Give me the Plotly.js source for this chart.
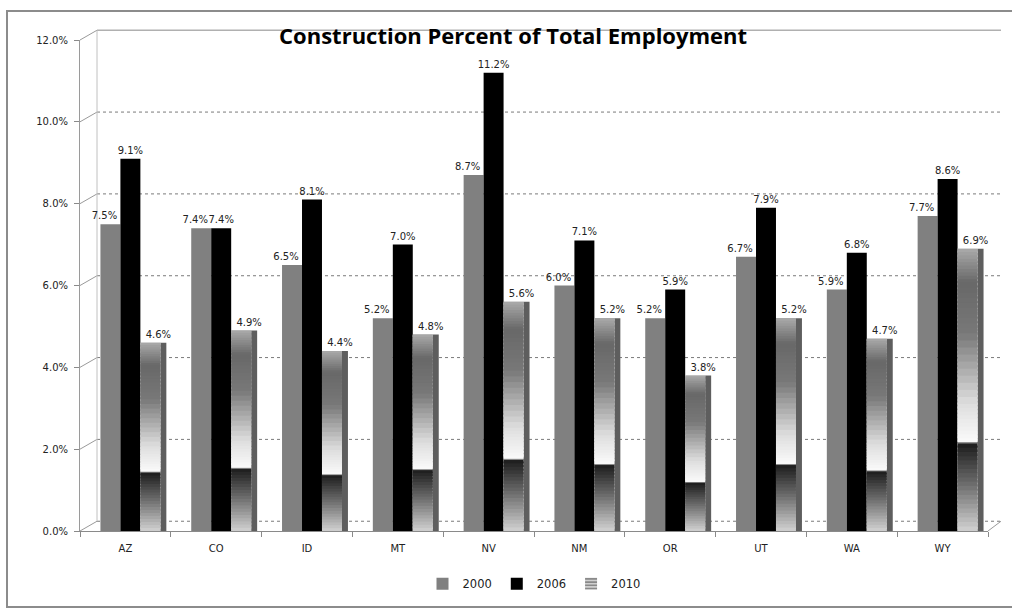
<!DOCTYPE html>
<html>
<head>
<meta charset="utf-8">
<script src="https://cdn.plot.ly/plotly-3.0.1.min.js"></script>
<style>
  html, body { margin: 0; padding: 0; background: #fff; }
  #wrap { position: relative; width: 1012px; height: 610px; }
  #chart { position: absolute; left: 0; top: 0; width: 1012px; height: 610px; }
  #frame { position: absolute; left: 6px; top: 10px; width: 1004px; height: 594px;
           border: 2px solid #8c8c8c; pointer-events: none; }
</style>
</head>
<body>
<div id="wrap">
  <div id="chart"></div>
  <div id="frame"></div>
</div>
<script>
// ---- data ----
const states = ["AZ", "CO", "ID", "MT", "NV", "NM", "OR", "UT", "WA", "WY"];
const share2000 = [0.075, 0.074, 0.065, 0.052, 0.087, 0.060, 0.052, 0.067, 0.059, 0.077];
const share2006 = [0.091, 0.074, 0.081, 0.070, 0.112, 0.071, 0.059, 0.079, 0.068, 0.086];
const share2010 = [0.046, 0.049, 0.044, 0.048, 0.056, 0.052, 0.038, 0.052, 0.047, 0.069];
const yTicks = [0, 0.02, 0.04, 0.06, 0.08, 0.10, 0.12];

// ---- style ----
const FONT = "DejaVu Sans, Verdana, sans-serif";
const BW = 0.22;                 // bar width (category units)
const OFF = [-0.275, -0.055, 0.165];
const LABEL_SHIFT = [-0.066, 0, 0.088];   // label nudges (category units)
const YMAX = 0.12;
const PW = 908, PH = 503;        // plot area px
const dxp = 17 / PW, dyp = 10 / PH;   // 3D back-wall offset in paper units
const wallRight = (1001 - 80) / PW;
const SEAM = 0.0004;             // small overlap so gradient bands leave no seams

// gradient stops for the 2010 bars (fraction of bar height -> grey level)
const stops = [[0, 210], [0.16, 112], [0.31, 28], [0.315, 250], [0.45, 222], [0.70, 120], [0.88, 104], [1, 170]];

function grey(v) { v = Math.round(v); return "rgb(" + v + "," + v + "," + v + ")"; }

const traces = [];
const labelFont = { family: FONT, size: 10, color: "#222" };

traces.push({
  type: "bar", name: "2000", x: states, y: share2000, width: BW, offset: OFF[0],
  marker: { color: "#808080", line: { width: 0 } }, hoverinfo: "skip"
});
traces.push({
  type: "bar", name: "2006", x: states, y: share2006, width: BW, offset: OFF[1],
  marker: { color: "#000000", line: { width: 0 } }, hoverinfo: "skip"
});
// side face of the 2010 bars (3D look)
traces.push({
  type: "bar", name: "side", x: states, y: share2010, width: 0.066, offset: OFF[2] + BW,
  marker: { color: "#5e5e5e", line: { width: 0 } },
  showlegend: false, hoverinfo: "skip"
});
traces.push({
  type: "bar", name: "2010", x: states, y: share2010, width: BW, offset: OFF[2],
  marker: { color: "#bdbdbd", line: { width: 0 },
            pattern: { shape: "-", fgcolor: "#777", bgcolor: "#d0d0d0", size: 4, solidity: 0.4 } },
  hoverinfo: "skip"
});
// gradient bands drawn over the 2010 bars
const SUB = 10;
for (let s = 0; s < stops.length - 1; s++) {
  const [f0, g0] = stops[s], [f1, g1] = stops[s + 1];
  const n = (f1 - f0) < 0.02 ? 1 : SUB;
  for (let k = 0; k < n; k++) {
    const a = f0 + (f1 - f0) * k / n, b = f0 + (f1 - f0) * (k + 1) / n;
    const g = g0 + (g1 - g0) * ((k + 0.5) / n);
    const last = (s === stops.length - 2 && k === n - 1);
    traces.push({
      type: "bar", x: states,
      y: share2010.map(v => v * (b - a) + (last ? 0 : SEAM)),
      base: share2010.map(v => v * a),
      width: BW, offset: OFF[2],
      marker: { color: grey(g), line: { width: 0 } },
      showlegend: false, hoverinfo: "skip"
    });
  }
}
// value labels, drawn last so nothing covers them
[share2000, share2006, share2010].forEach((vals, i) => {
  traces.push({
    type: "bar", x: states, y: vals, width: BW, offset: OFF[i] + LABEL_SHIFT[i],
    marker: { color: "rgba(0,0,0,0)", line: { width: 0 } },
    texttemplate: "%{y:.1%}", textposition: "outside", textfont: labelFont,
    constraintext: "none", cliponaxis: false, showlegend: false, hoverinfo: "skip"
  });
});

// back wall shapes (gridlines + perspective connectors)
const shapes = [];
yTicks.forEach(v => {
  const yf = v / YMAX;
  shapes.push({ type: "line", xref: "paper", yref: "paper", layer: "below",
    x0: dxp, x1: wallRight, y0: yf + dyp, y1: yf + dyp,
    line: { color: v === YMAX ? "#b0b0b0" : "#7a7a7a", width: v === YMAX ? 1.5 : 1, dash: v === YMAX ? "solid" : "dot" } });
  shapes.push({ type: "line", xref: "paper", yref: "paper", layer: "below",
    x0: 0, x1: dxp, y0: yf, y1: yf + dyp, line: { color: "#9a9a9a", width: 1 } });
});
shapes.push({ type: "line", xref: "paper", yref: "paper", layer: "below",
  x0: dxp, x1: dxp, y0: dyp, y1: 1 + dyp, line: { color: "#c0c0c0", width: 1 } });
shapes.push({ type: "line", xref: "paper", yref: "paper", layer: "below",
  x0: 1, x1: wallRight, y0: 0, y1: dyp, line: { color: "#9a9a9a", width: 1 } });

const layout = {
  width: 1012, height: 610,
  margin: { l: 80, r: 24, t: 40, b: 67 },
  paper_bgcolor: "#ffffff", plot_bgcolor: "rgba(0,0,0,0)",
  barmode: "overlay",
  title: { text: "<b>Construction Percent of Total Employment</b>",
           font: { family: "Open Sans, Noto Sans, sans-serif", size: 22, color: "#000" },
           x: 0.507, xref: "container", y: 1 - 36 / 610, yref: "container", yanchor: "middle" },
  xaxis: {
    type: "category", range: [-0.5, 9.5], showgrid: false,
    showline: true, linecolor: "#8a8a8a", linewidth: 1,
    ticks: "outside", tickson: "boundaries", ticklen: 5, tickcolor: "#8a8a8a",
    ticklabelstandoff: 8,
    tickfont: { family: FONT, size: 10, color: "#222" }, fixedrange: true
  },
  yaxis: {
    range: [0, YMAX], tickvals: yTicks, tickformat: ".1%", showgrid: false, zeroline: false,
    showline: true, linecolor: "#9a9a9a", linewidth: 1,
    ticks: "outside", ticklen: 5, tickcolor: "#8a8a8a", ticklabelstandoff: 4,
    tickfont: { family: FONT, size: 10, color: "#222" }, fixedrange: true
  },
  legend: {
    orientation: "h", x: 0.5, xanchor: "center", xref: "paper",
    y: (543 - 597) / PH, yanchor: "middle",
    font: { family: FONT, size: 11.5, color: "#222" },
    itemwidth: 30, traceorder: "normal", tracegroupgap: 0
  },
  shapes: shapes,
  showlegend: true
};

Plotly.newPlot("chart", traces, layout, { displayModeBar: false, staticPlot: true });
</script>
</body>
</html>
